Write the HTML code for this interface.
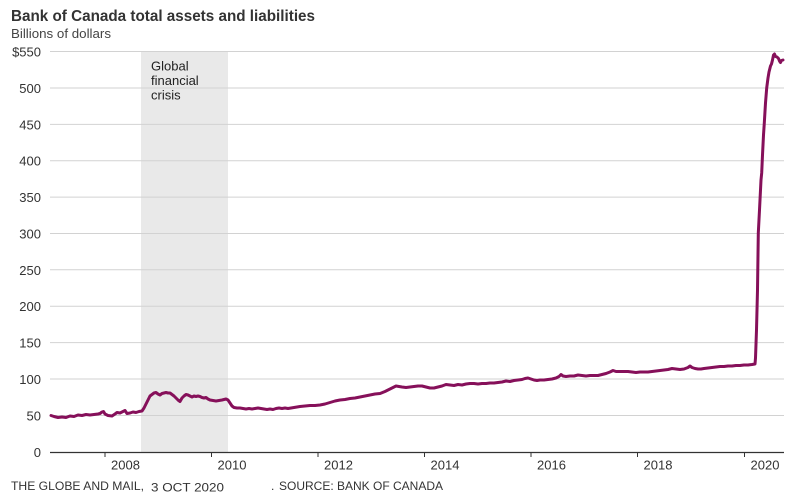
<!DOCTYPE html>
<html>
<head>
<meta charset="utf-8">
<style>
  html,body{margin:0;padding:0;background:#fff;}
  svg{display:block;}
  text{font-family:"Liberation Sans",sans-serif;}
</style>
</head>
<body>
<svg width="796" height="499" viewBox="0 0 796 499" xmlns="http://www.w3.org/2000/svg">
  <rect x="0" y="0" width="796" height="499" fill="#fff"/>
  <!-- title -->
  <text x="11" y="21" font-size="16" font-weight="bold" fill="#333" textLength="304" lengthAdjust="spacingAndGlyphs">Bank of Canada total assets and liabilities</text>
  <text x="11" y="38" font-size="13" fill="#444" textLength="100" lengthAdjust="spacingAndGlyphs">Billions of dollars</text>

  <!-- shaded crisis -->
  <rect x="141" y="51" width="87" height="401" fill="#e9e9e9"/>

  <!-- gridlines -->
  <g stroke="#d2d2d2" stroke-width="1">
    <line x1="50" y1="51.5" x2="784" y2="51.5"/>
    <line x1="50" y1="88" x2="784" y2="88"/>
    <line x1="50" y1="124.4" x2="784" y2="124.4"/>
    <line x1="50" y1="160.7" x2="784" y2="160.7"/>
    <line x1="50" y1="197.1" x2="784" y2="197.1"/>
    <line x1="50" y1="233.5" x2="784" y2="233.5"/>
    <line x1="50" y1="269.8" x2="784" y2="269.8"/>
    <line x1="50" y1="306.2" x2="784" y2="306.2"/>
    <line x1="50" y1="342.6" x2="784" y2="342.6"/>
    <line x1="50" y1="379" x2="784" y2="379"/>
    <line x1="50" y1="415.5" x2="784" y2="415.5"/>
  </g>
  <line x1="50" y1="452.5" x2="784" y2="452.5" stroke="#333" stroke-width="1.2"/>
  <!-- ticks -->
  <g stroke="#333" stroke-width="1">
    <line x1="105" y1="452" x2="105" y2="457"/>
    <line x1="211.5" y1="452" x2="211.5" y2="457"/>
    <line x1="318" y1="452" x2="318" y2="457"/>
    <line x1="424.5" y1="452" x2="424.5" y2="457"/>
    <line x1="531" y1="452" x2="531" y2="457"/>
    <line x1="637.5" y1="452" x2="637.5" y2="457"/>
    <line x1="744.5" y1="452" x2="744.5" y2="457"/>
  </g>

  <!-- y labels -->
  <g font-size="13" fill="#333" text-anchor="end">
    <text x="41" y="56.5">$550</text>
    <text x="41" y="93">500</text>
    <text x="41" y="129.4">450</text>
    <text x="41" y="165.7">400</text>
    <text x="41" y="202.1">350</text>
    <text x="41" y="238.5">300</text>
    <text x="41" y="274.8">250</text>
    <text x="41" y="311.2">200</text>
    <text x="41" y="347.6">150</text>
    <text x="41" y="384">100</text>
    <text x="41" y="420.5">50</text>
    <text x="41" y="457">0</text>
  </g>

  <!-- x labels -->
  <g font-size="13" fill="#333">
    <text x="111" y="469.5">2008</text>
    <text x="217.5" y="469.5">2010</text>
    <text x="324" y="469.5">2012</text>
    <text x="430.5" y="469.5">2014</text>
    <text x="537" y="469.5">2016</text>
    <text x="643.5" y="469.5">2018</text>
    <text x="750.5" y="469.5">2020</text>
  </g>

  <!-- annotation -->
  <g font-size="13" fill="#222">
    <text x="151" y="70.5">Global</text>
    <text x="151" y="85">financial</text>
    <text x="151" y="99.5">crisis</text>
  </g>

  <!-- series -->
  <polyline fill="none" stroke="#86105a" stroke-width="3" stroke-linejoin="round" stroke-linecap="round"
    points="51,415.5 54,416.5 58,417.5 62,417 66,417.5 70,416 74,416.5 78,415 82,415.5 86,414.5 90,415 94,414.5 98,414 100,413.5 102,412 103.5,411.5 105,414 108,415.5 112,416 115,414 117,412.5 120,413 123,411.5 125,410.5 127,413.5 130,413 133,412 136,412.5 139,411.5 142,411 144,408 146,404 148,400 150,396 152,394.5 154,393 156,392.5 158,394 160,395 162,393.5 164,393 166,392.5 168,393 170,393 172,394.5 174,396 176,398 178,400 180,401.5 182,398 184,396 186,394.5 188,395 190,396 192,397 194,396 196,396.5 198,396 200,396.5 202,397.5 204,398 206,397.5 208,399 210,400 213,400.5 216,401 219,400.5 222,400 224,399.5 226,399 228,400 230,403 232,406 234,407.5 237,408 240,408 243,408.5 246,409 249,408.5 252,409 255,408.5 258,408 261,408.5 264,409 267,409.5 270,409 273,409.5 276,408.5 279,408 282,408.5 285,408 288,408.5 291,408 294,407.5 297,407 300,406.5 305,406 310,405.5 315,405.5 320,405 325,404 330,402.5 335,401 340,400 345,399.5 350,398.5 355,398 360,397 365,396 370,395 375,394 380,393.5 385,391.5 390,389 393,387.5 396,386 399,386.5 402,387 406,387.5 410,387 414,386.5 418,386 422,386 426,387 430,388 434,388 438,387 442,386 446,384.5 450,385 454,385.5 458,384.5 462,385 466,384 470,383.5 474,383.5 478,384 482,383.5 486,383.5 490,383 494,383 498,382.5 502,382 506,381 510,381.5 514,380.5 518,380 522,379.5 525,378.5 528,378 531,379 534,380 537,380.5 540,380 544,380 548,379.5 552,379 556,378 559,376.5 561,374.5 563,376 566,376.5 570,376 574,376 578,375 582,375.5 586,376 590,375.5 594,375.5 598,375.5 602,374.5 606,373.5 610,372 613,370.5 616,371.5 620,371.5 624,371.5 628,371.5 632,372 636,372.5 640,372 644,372 648,372 652,371.5 656,371 660,370.5 664,370 668,369.5 672,368.5 676,369 680,369.5 684,369 688,367.5 690,366 692,367.5 695,368.5 698,369 701,369 704,368.5 708,368 712,367.5 716,367 720,366.5 724,366.5 728,366 732,366 736,365.5 740,365.5 744,365 748,365 752,364.5 755,364 755.5,358 756.5,330 757.5,290 758.3,233 759.5,210 761,180 761.7,173 762.5,155 763.5,135 764.3,123 765.5,103 766.7,88 768,78 769,72 770.5,66 771.5,64 772.5,60 773.5,55 774.5,54 775.5,56.5 777,57 778.5,58.5 779.5,61 780.5,62.5 781.5,60.5 783,60"/>

  <!-- footer -->
  <g font-size="12" fill="#333">
    <text x="11" y="490" textLength="133" lengthAdjust="spacingAndGlyphs">THE GLOBE AND MAIL,</text>
    <text x="151" y="491.5" textLength="73" lengthAdjust="spacingAndGlyphs">3 OCT 2020</text>
    <text x="271" y="490">.</text>
    <text x="279" y="490" textLength="164" lengthAdjust="spacingAndGlyphs">SOURCE: BANK OF CANADA</text>
  </g>
</svg>
</body>
</html>
